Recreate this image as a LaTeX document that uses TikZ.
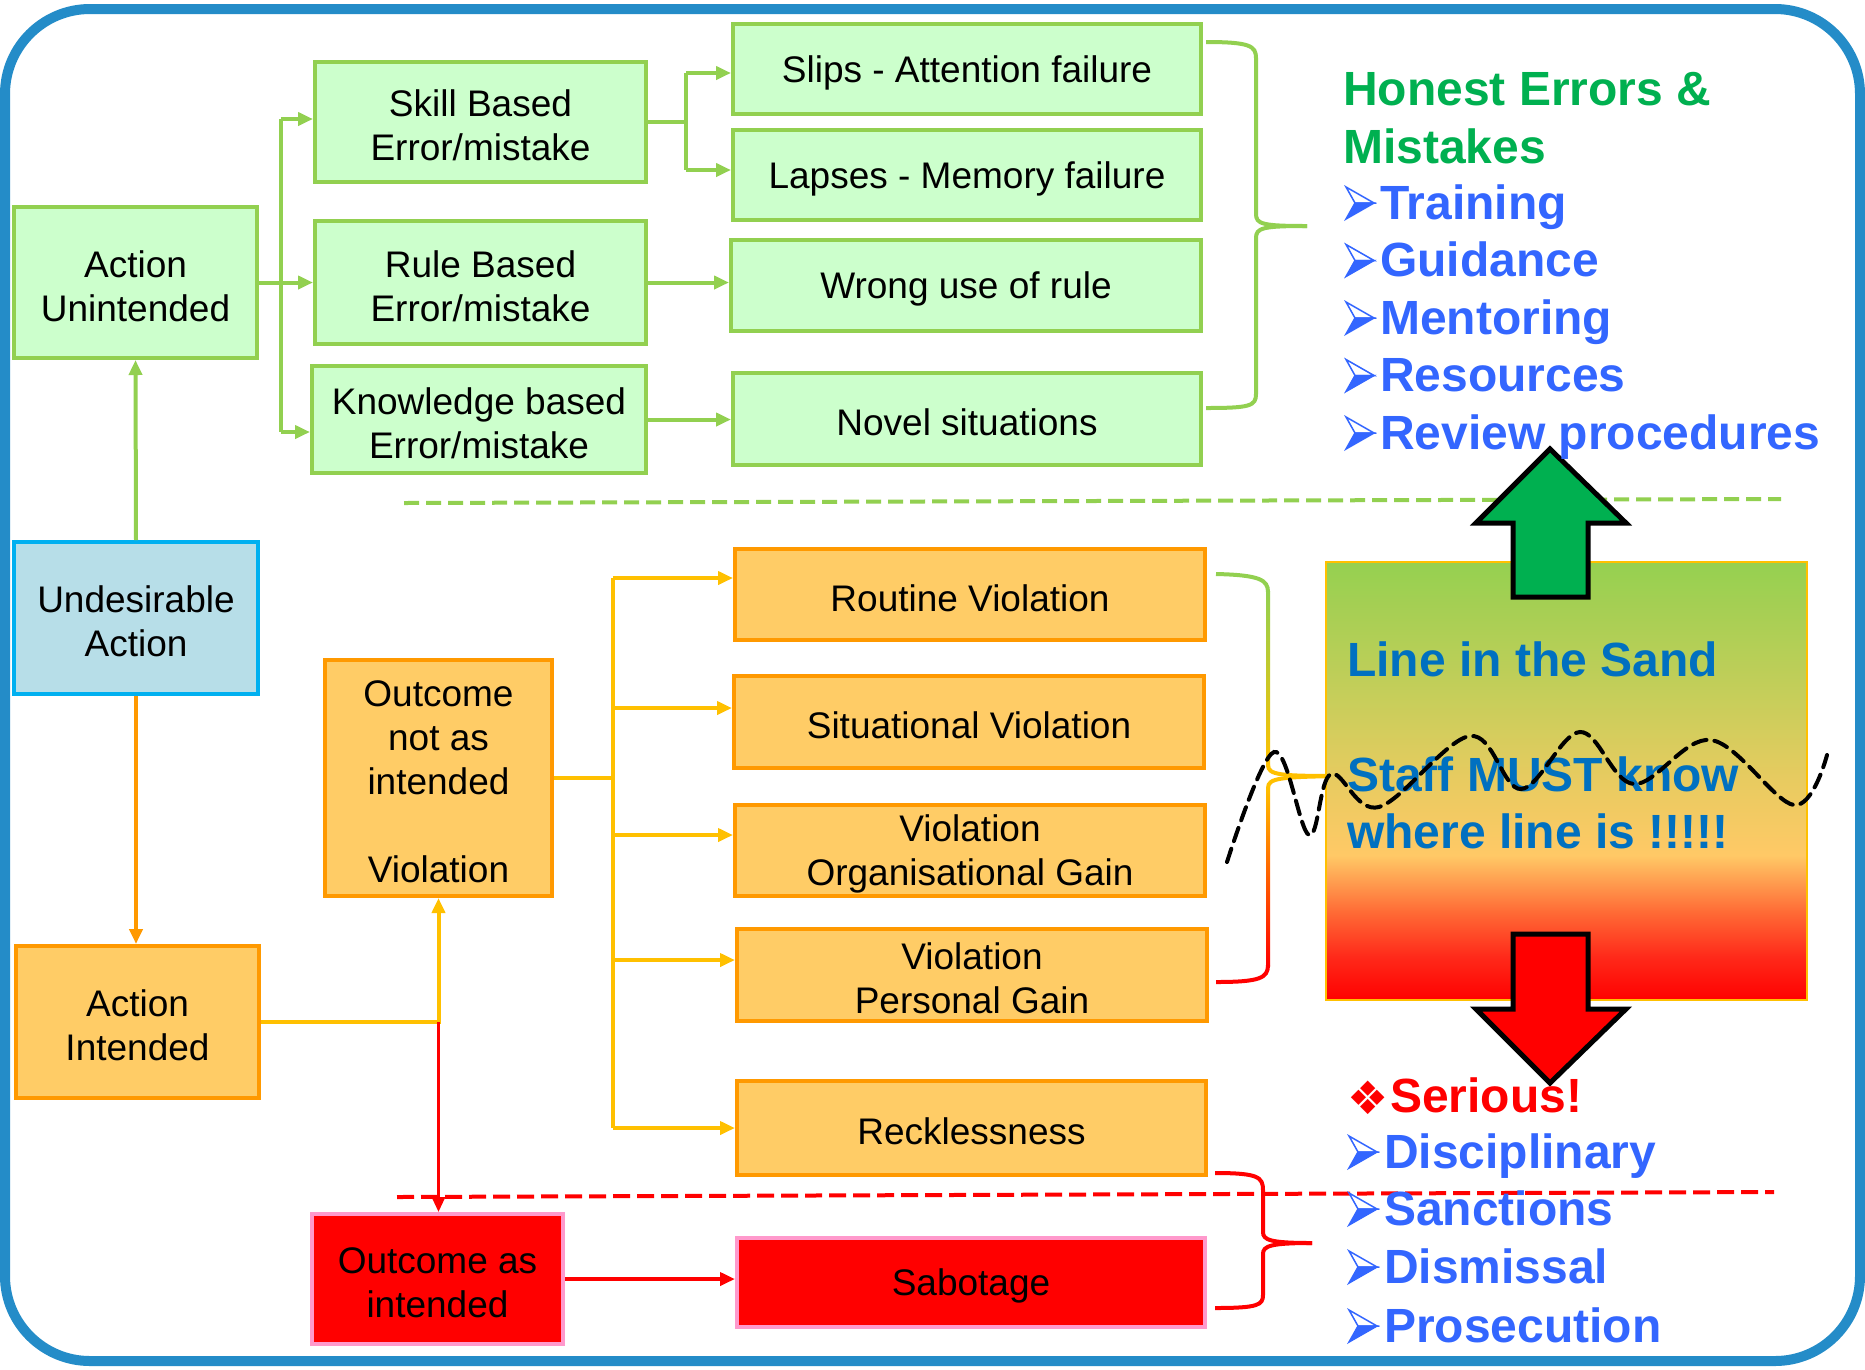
\documentclass[tikz,border=0pt]{standalone}
\usepackage{fontspec}
\setmainfont{Liberation Sans}
\newfontfamily\dejavu{DejaVu Sans}
\usetikzlibrary{arrows.meta}
\definecolor{gfill}{HTML}{CCFFCC}
\definecolor{gline}{HTML}{92D050}
\definecolor{ofill}{HTML}{FFCC66}
\definecolor{oline}{HTML}{FF9900}
\definecolor{yline}{HTML}{FFC000}
\definecolor{rfill}{HTML}{FF0000}
\definecolor{rline}{HTML}{FF99CC}
\definecolor{bfill}{HTML}{B7DEE8}
\definecolor{bline}{HTML}{00B0F0}
\definecolor{framec}{RGB}{36,140,200}
\definecolor{hgreen}{HTML}{00B050}
\definecolor{lblue}{HTML}{3366FF}
\definecolor{sblue}{HTML}{0070C0}
\definecolor{sa}{HTML}{FF2A1A}
\definecolor{sb}{HTML}{FF6A35}
\definecolor{sc}{HTML}{FFC966}
\definecolor{sd}{HTML}{E8CB60}
\definecolor{se}{HTML}{C5CE5A}
\definecolor{sf}{HTML}{95D050}
\pgfdeclareverticalshading{sandshade}{100bp}{color(0bp)=(rfill); color(25bp)=(rfill); color(30bp)=(sa); color(35bp)=(sb); color(41.5bp)=(sc); color(50bp)=(sd); color(60bp)=(se); color(75bp)=(sf); color(100bp)=(sf)}
\newcommand\bxfont{\fontsize{37}{44}\selectfont}
\newcommand\rtfont{\fontsize{48}{57}\selectfont\bfseries}
\newcommand\tp{\rule{0pt}{34pt}}
\begin{document}
\begin{tikzpicture}[x=1pt,y=-1pt,
  bx/.style={draw, line width=4pt, inner sep=0pt, align=center, font=\bxfont},
  gbox/.style={bx, draw=gline, fill=gfill},
  obox/.style={bx, draw=oline, fill=ofill},
  rbox/.style={bx, draw=rline, fill=rfill},
  ubox/.style={bx, draw=bline, fill=bfill},
  con/.style={line width=4pt},
  tip/.style={-{Triangle[length=15pt,width=13pt]}},
  rt/.style={anchor=base west, inner sep=0pt, font=\rtfont},
  bigarrow/.style={draw=black, line width=5pt, line join=miter},
  bul/.pic={
    \filldraw[draw=lblue, fill=white, line width=1.5pt, line join=miter] (0,-32) -- (28,-16) -- (9,-16) -- cycle;
    \filldraw[draw=lblue, fill=lblue, line width=1.5pt, line join=miter] (9,-16) -- (28,-16) -- (0,0) -- cycle;
  }
]
\useasboundingbox (0,0) rectangle (1865,1369);
\fill[white] (0,0) rectangle (1865,1369);
\draw[framec, line width=10pt, rounded corners=85pt] (5,9) rectangle (1860,1361);

% ---------- green (upper) boxes
\node[gbox, minimum width=243pt, minimum height=151pt] (unint) at (135.5,282.5) {\tp Action\\Unintended};
\node[gbox, minimum width=331pt, minimum height=120pt] (skill) at (480.5,122) {\tp Skill Based\\Error/mistake};
\node[gbox, minimum width=331pt, minimum height=123pt] (rule) at (480.5,282.5) {\tp Rule Based\\Error/mistake};
\node[gbox, minimum width=334pt, minimum height=107pt] (know) at (479,419.5) {\tp Knowledge based\\Error/mistake};
\node[gbox, minimum width=468pt, minimum height=90pt] (slips) at (967,69) {\tp Slips - Attention failure};
\node[gbox, minimum width=468pt, minimum height=90pt] (lapses) at (967,175) {\tp Lapses - Memory failure};
\node[gbox, minimum width=470pt, minimum height=91pt] (wrong) at (966,285.5) {\tp Wrong use of rule};
\node[gbox, minimum width=468pt, minimum height=92pt] (novel) at (967,419) {\tp Novel situations};

% ---------- lower boxes
\node[ubox, minimum width=244pt, minimum height=152pt] (undes) at (136,618) {\tp Undesirable\\Action};
\node[obox, minimum width=243pt, minimum height=152pt] (ai) at (137.5,1022) {\tp Action\\Intended};
\node[obox, minimum width=227pt, minimum height=236pt] (notas) at (438.5,778) {\tp Outcome\\not as\\intended\\[44pt]Violation};
\node[obox, minimum width=470pt, minimum height=91pt] (routine) at (970,594.5) {\tp Routine Violation};
\node[obox, minimum width=470pt, minimum height=92pt] (situ) at (969,722) {\tp Situational Violation};
\node[obox, minimum width=470pt, minimum height=91pt] (org) at (970,850.5) {\tp Violation\\Organisational Gain};
\node[obox, minimum width=470pt, minimum height=92pt] (pers) at (972,975) {\tp Violation\\Personal Gain};
\node[obox, minimum width=469pt, minimum height=94pt] (reck) at (971.5,1128) {\tp Recklessness};
\node[rbox, minimum width=251pt, minimum height=130pt] (asint) at (437.5,1279) {\tp Outcome as\\intended};
\node[rbox, minimum width=468pt, minimum height=89pt] (sab) at (971,1282.5) {\tp Sabotage};

% ---------- green connectors
\draw[con, gline, tip] (undes.north) -- (unint.south);
\coordinate (gt1) at (281,119);
\coordinate (gt2) at (281,432);
\draw[con, gline] (gt1) -- (gt2);
\draw[con, gline, tip] (gt1) -- (gt1 -| skill.west);
\draw[con, gline, tip] (unint.east) -- (unint.east -| rule.west);
\draw[con, gline, tip] (gt2) -- (gt2 -| know.west);
\coordinate (st1) at (686,73);
\coordinate (st2) at (686,170);
\draw[con, gline] (skill.east) -- (skill.east -| st1);
\draw[con, gline] (st1) -- (st2);
\draw[con, gline, tip] (st1) -- (st1 -| slips.west);
\draw[con, gline, tip] (st2) -- (st2 -| lapses.west);
\draw[con, gline, tip] (rule.east) -- (rule.east -| wrong.west);
\draw[con, gline, tip] (know.east) -- (know.east -| novel.west);

% ---------- orange / yellow / red connectors
\draw[con, oline, tip] (undes.south) -- (undes.south |- ai.north);
\coordinate (j) at (notas.south |- ai.east);
\draw[con, yline, tip] (ai.east) -- (j) -- (notas.south);
\draw[con, rfill, line width=3pt, tip] (j) -- (j |- asint.north);
\coordinate (yt0) at (613,578);
\coordinate (yt1) at (613,708);
\coordinate (yt2) at (613,835);
\coordinate (yt3) at (613,960);
\coordinate (yt4) at (613,1128);
\draw[con, yline] (notas.east) -- (notas.east -| yt0);
\draw[con, yline] (yt0) -- (yt4);
\draw[con, yline, tip] (yt0) -- (yt0 -| routine.west);
\draw[con, yline, tip] (yt1) -- (yt1 -| situ.west);
\draw[con, yline, tip] (yt2) -- (yt2 -| org.west);
\draw[con, yline, tip] (yt3) -- (yt3 -| pers.west);
\draw[con, yline, tip] (yt4) -- (yt4 -| reck.west);
\draw[con, rfill, tip] (asint.east) -- (asint.east -| sab.west);

% ---------- dashed lines
\draw[gline, line width=4pt, dash pattern=on 15pt off 7pt] (404,503) -- (1781,499);
\draw[rfill, line width=4pt, dash pattern=on 17pt off 7pt] (397,1197) -- (1774,1192);

% ---------- braces
\draw[con, gline] (1206,42) .. controls (1250,42) and (1256,46) .. (1256,58) -- (1256,214) .. controls (1256,224) and (1262,226) .. (1307,226);
\draw[con, gline] (1307,226) .. controls (1262,226) and (1256,228) .. (1256,238) -- (1256,394) .. controls (1256,406) and (1250,408) .. (1206,408);
\draw[con, rfill] (1215,1173) .. controls (1258,1173) and (1263,1177) .. (1263,1190) -- (1263,1232) .. controls (1263,1240) and (1270,1243) .. (1312,1243);
\draw[con, rfill] (1312,1243) .. controls (1270,1243) and (1263,1246) .. (1263,1254) -- (1263,1295) .. controls (1263,1305) and (1258,1308) .. (1215,1308);
% middle (graded) brace
\draw[con, gline] (1216,574) .. controls (1260,575) and (1268,580) .. (1268,592);
\shade[top color=gline, bottom color=yline] (1266,591) rectangle (1270,766);
\draw[con, yline] (1268,765) .. controls (1268,775) and (1280,776) .. (1339,776);
\draw[con, yline] (1339,776) .. controls (1280,777) and (1268,778) .. (1268,788);
\shade[top color=yline, bottom color=rfill] (1266,787) rectangle (1270,966);
\draw[con, rfill] (1268,965) .. controls (1268,978) and (1260,982) .. (1216,982);

% ---------- gradient box
\shade[shading=sandshade, draw=yline, line width=2pt] (1326,562) rectangle (1807,1000);
\node[rt, sblue] (lits) at (1347,676) {Line in the Sand};
\node[rt, sblue] (staff) at (1347,791) {Staff MUST know};
\node[rt, sblue] (where) at (1347,848) {where line is !!!!!};

% ---------- big arrows
\draw[bigarrow, fill=hgreen] (1550,449) -- (1626,523) -- (1588,523) -- (1588,597) -- (1513,597) -- (1513,523) -- (1476,523) -- cycle;
\draw[bigarrow, fill=rfill] (1513,934) -- (1588,934) -- (1588,1009) -- (1626,1009) -- (1550,1083) -- (1476,1009) -- (1513,1009) -- cycle;

% ---------- wavy dashed line
\draw[black, line width=4pt, dash pattern=on 14pt off 8pt, line cap=round] plot[smooth, tension=0.6] coordinates {(1227,862) (1274,752) (1309,835) (1331,774) (1379,807) (1470,736) (1521,789) (1580,732) (1634,784) (1711,740) (1794,805) (1827,755)};

% ---------- right texts (top)
\node[rt, hgreen] (he) at (1343,105) {Honest Errors \&};
\node[rt, hgreen] (mi) at (1343,163) {Mistakes};
\foreach \y/\t [count=\i] in {219/Training, 276.5/Guidance, 334/Mentoring, 391.5/Resources, 449/Review procedures}{
  \pic at (1346,\y) {bul};
  \node[rt, lblue] (ta\i) at (1380,\y) {\t};
}
% ---------- right texts (bottom)
\node[rt, rfill] (dia) at (1347,1114) {{\dejavu\fontsize{46}{46}\selectfont ❖}};
\node[rt, rfill] (ser) at (1390,1112) {Serious!};
\foreach \y/\t [count=\i] in {1168/Disciplinary, 1225/Sanctions, 1283/Dismissal, 1342/Prosecution}{
  \pic at (1349,\y) {bul};
  \node[rt, lblue] (tb\i) at (1384,\y) {\t};
}
\end{tikzpicture}
\end{document}
